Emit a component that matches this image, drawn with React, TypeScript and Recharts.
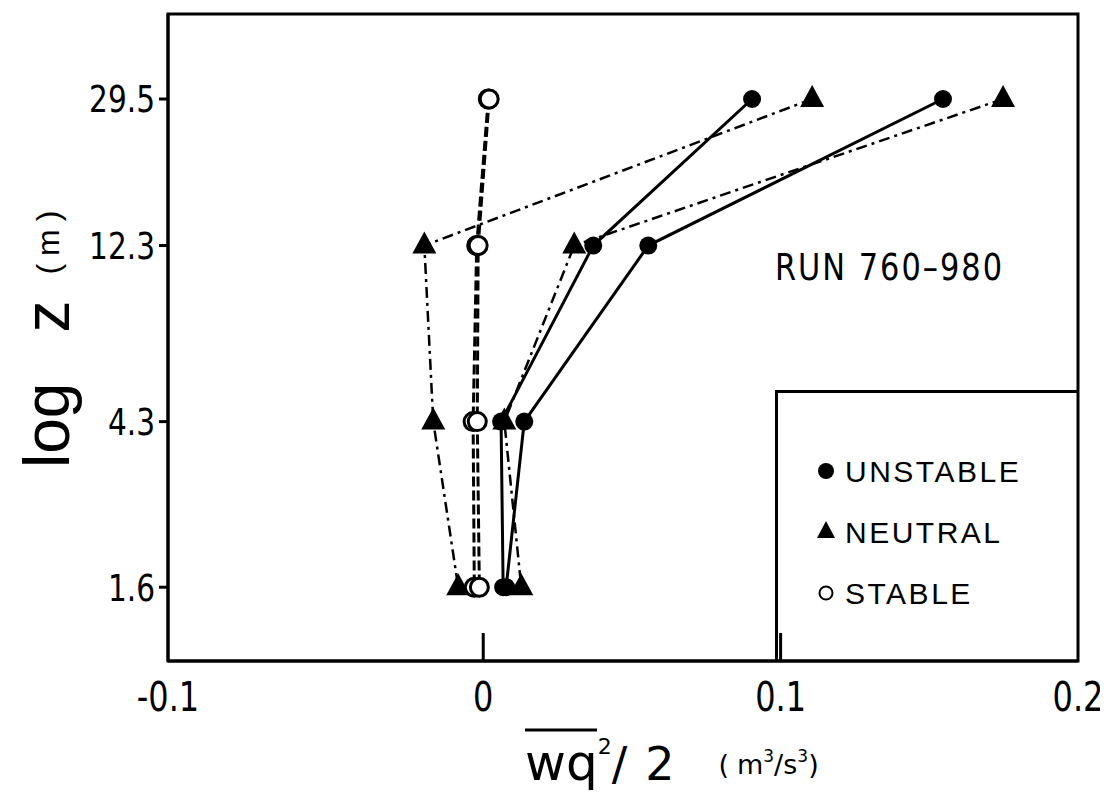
import React from 'react';
import { ScatterChart, Scatter, XAxis, YAxis, ReferenceArea, Legend, Label } from 'recharts';

// heights (m), plotted on a log axis
const heights = [29.5, 12.3, 4.3, 1.6];

// wq^2/2 (m^3/s^3) profiles, top to bottom
const unstableA = [0.0904, 0.037, 0.006, 0.0067];
const unstableB = [0.1546, 0.0555, 0.0138, 0.0077];
const neutralA = [0.1106, -0.0198, -0.0168, -0.0084];
const neutralB = [0.1748, 0.0306, 0.0071, 0.0128];
const stableA = [0.0017, -0.0022, -0.0034, -0.003];
const stableB = [0.002, -0.0017, -0.002, -0.0013];

// the scanned axis puts -0.1 at the frame corner, slightly beyond the linear position
const xDomain = [-0.106, 0.2];
const xTickValues = [-0.106, 0, 0.1, 0.2];
const xTickLabels = ['-0.1', '0', '0.1', '0.2'];
const yDomain = [1.03, 49];
const yTickLabels = ['29.5', '12.3', '4.3', '1.6'];
const legendItems = ['UNSTABLE', 'NEUTRAL', 'STABLE'];
const runLabel = 'RUN 760\u2013980';

const FONT = "'DejaVu Sans', sans-serif";
const SANS = "'Liberation Sans', Arial, sans-serif";
const NARROW_SCALE = 0.8;

const toPoints = (vals: number[]) => heights.map((z, i) => ({ x: vals[i], z }));

const DotShape = (p: any) => <circle cx={p.cx} cy={p.cy} r={9} fill="#000" />;
const TriShape = (p: any) => (
  <polygon
    points={`${p.cx},${p.cy - 14} ${p.cx - 12},${p.cy + 8} ${p.cx + 12},${p.cy + 8}`}
    fill="#000"
  />
);
const RingShape = (p: any) => (
  <circle cx={p.cx} cy={p.cy} r={9} fill="#fff" stroke="#000" strokeWidth={3} />
);

const XTick = (props: any) => {
  const { x, y, payload } = props;
  const idx = xTickValues.indexOf(payload.value);
  const inner = idx > 0 && idx < xTickValues.length - 1;
  return (
    <g>
      {inner && <line x1={x} x2={x} y1={y} y2={y - 28} stroke="#000" strokeWidth={3} />}
      <text
        transform={`translate(${x} ${y + 50}) scale(${NARROW_SCALE} 1)`}
        textAnchor="middle"
        fontFamily={FONT}
        fontSize={40}
        fill="#000"
      >
        {xTickLabels[idx]}
      </text>
    </g>
  );
};

const YTick = (props: any) => {
  const { x, y, payload } = props;
  const idx = heights.indexOf(payload.value);
  return (
    <g>
      <line x1={x - 9} x2={x} y1={y} y2={y} stroke="#000" strokeWidth={3} />
      <text
        transform={`translate(${x - 13} ${y}) scale(${NARROW_SCALE} 1)`}
        dy="0.36em"
        textAnchor="end"
        fontFamily={FONT}
        fontSize={37}
        fill="#000"
      >
        {yTickLabels[idx]}
      </text>
    </g>
  );
};

const XTitle = (props: any) => {
  const vb = props.viewBox || { x: 160, y: 653 };
  const x0 = vb.x + 357;
  const base = vb.y + 119;
  return (
    <g>
      <line x1={x0} x2={x0 + 72} y1={vb.y + 69} y2={vb.y + 69} stroke="#000" strokeWidth={3} />
      <text x={x0} y={base} fontFamily={FONT} fill="#000">
        <tspan fontSize={50}>wq</tspan>
        <tspan fontSize={22} dy={-26}>2</tspan>
        <tspan fontSize={46} dy={26}>/</tspan>
        <tspan fontSize={46} dx={18}>2</tspan>
        <tspan fontSize={27} dx={44} dy={-6}>(</tspan>
        <tspan fontSize={27} dx={8}>m</tspan>
        <tspan fontSize={17} dy={-12}>3</tspan>
        <tspan fontSize={27} dy={12}>/</tspan>
        <tspan fontSize={27}>s</tspan>
        <tspan fontSize={17} dy={-12}>3</tspan>
        <tspan fontSize={27} dy={12}>)</tspan>
      </text>
    </g>
  );
};

const YTitle = () => {
  const bx = 61;
  const by = 460;
  return (
    <text
      x={bx}
      y={by}
      transform={`rotate(-90 ${bx} ${by})`}
      fontFamily={SANS}
      fill="#000"
    >
      <tspan fontSize={64}>log</tspan>
      <tspan fontSize={64} dx={50}>z</tspan>
      <tspan fontSize={32} dx={26} dy={-10}>(</tspan>
      <tspan fontSize={32} dx={8}>m</tspan>
      <tspan fontSize={32} dx={8}>)</tspan>
    </text>
  );
};

const LegendMarker = ({ kind, cx, cy }: { kind: number; cx: number; cy: number }) => {
  if (kind === 0) return <circle cx={cx} cy={cy} r={8} fill="#000" />;
  if (kind === 1)
    return (
      <polygon points={`${cx},${cy - 11} ${cx - 9},${cy + 6} ${cx + 9},${cy + 6}`} fill="#000" />
    );
  return <circle cx={cx} cy={cy} r={6.5} fill="#fff" stroke="#000" strokeWidth={2} />;
};

const LegendBox = () => (
  <svg width={303} height={271} style={{ display: 'block', overflow: 'visible' }}>
    {legendItems.map((name, i) => (
      <g key={name}>
        <LegendMarker kind={i} cx={48} cy={78 + i * 61} />
        <text
          x={67}
          y={78 + i * 61}
          dy="0.36em"
          fontFamily={SANS}
          fontSize={30}
          letterSpacing={2.5}
          fill="#000"
        >
          {name}
        </text>
      </g>
    ))}
  </svg>
);

export default function App() {
  return (
    <div style={{ position: 'relative', width: 1100, height: 785, background: '#fff' }}>
      <ScatterChart
        width={1100}
        height={785}
        margin={{ top: 6, right: 30, bottom: 0, left: 0 }}
        style={{ fontFamily: FONT }}
      >
        <XAxis
          dataKey="x"
          type="number"
          domain={xDomain}
          ticks={xTickValues}
          interval={0}
          allowDataOverflow
          height={132}
          tick={XTick}
          tickLine={false}
          tickSize={0}
          tickMargin={0}
          axisLine={{ stroke: '#000', strokeWidth: 3 }}
        >
          <Label content={XTitle} position="insideTopLeft" />
        </XAxis>
        <YAxis
          dataKey="z"
          type="number"
          scale="log"
          domain={yDomain}
          ticks={heights}
          interval={0}
          allowDataOverflow
          width={160}
          tick={YTick}
          tickLine={false}
          tickSize={0}
          tickMargin={0}
          axisLine={{ stroke: '#000', strokeWidth: 3 }}
        >
          <Label content={YTitle} />
        </YAxis>
        <ReferenceArea
          x1={xDomain[0]}
          x2={xDomain[1]}
          y1={yDomain[0]}
          y2={yDomain[1]}
          fill="none"
          stroke="#000"
          strokeWidth={3}
          ifOverflow="visible"
        />
        <Scatter
          name="UNSTABLE"
          data={toPoints(unstableA)}
          line={{ stroke: '#000', strokeWidth: 3 }}
          lineType="joint"
          shape={DotShape}
          isAnimationActive={false}
        />
        <Scatter
          name="UNSTABLE B"
          data={toPoints(unstableB)}
          line={{ stroke: '#000', strokeWidth: 3 }}
          lineType="joint"
          shape={DotShape}
          isAnimationActive={false}
        />
        <Scatter
          name="NEUTRAL"
          data={toPoints(neutralA)}
          line={{ stroke: '#000', strokeWidth: 2.5, strokeDasharray: '11 5 3 5' }}
          lineType="joint"
          shape={TriShape}
          isAnimationActive={false}
        />
        <Scatter
          name="NEUTRAL B"
          data={toPoints(neutralB)}
          line={{ stroke: '#000', strokeWidth: 2.5, strokeDasharray: '11 5 3 5' }}
          lineType="joint"
          shape={TriShape}
          isAnimationActive={false}
        />
        <Scatter
          name="STABLE"
          data={toPoints(stableA)}
          line={{ stroke: '#000', strokeWidth: 3, strokeDasharray: '10 4' }}
          lineType="joint"
          shape={RingShape}
          isAnimationActive={false}
        />
        <Scatter
          name="STABLE B"
          data={toPoints(stableB)}
          line={{ stroke: '#000', strokeWidth: 3, strokeDasharray: '10 4' }}
          lineType="joint"
          shape={RingShape}
          isAnimationActive={false}
        />
        <Legend
          layout="horizontal"
          align="center"
          verticalAlign="middle"
          content={LegendBox}
          wrapperStyle={{
            position: 'absolute',
            left: 767,
            top: 382,
            width: 303,
            height: 271,
            borderLeft: '3px solid #000',
            borderTop: '3px solid #000',
            boxSizing: 'border-box',
            margin: 0,
          }}
        />
      </ScatterChart>
      <svg
        width={1100}
        height={785}
        style={{ position: 'absolute', left: 0, top: 0, pointerEvents: 'none' }}
      >
        <text
          transform={`translate(767 272) scale(${NARROW_SCALE} 1)`}
          fontFamily={FONT}
          fontSize={38}
          letterSpacing={2.5}
          fill="#000"
        >
          {runLabel}
        </text>
      </svg>
    </div>
  );
}
